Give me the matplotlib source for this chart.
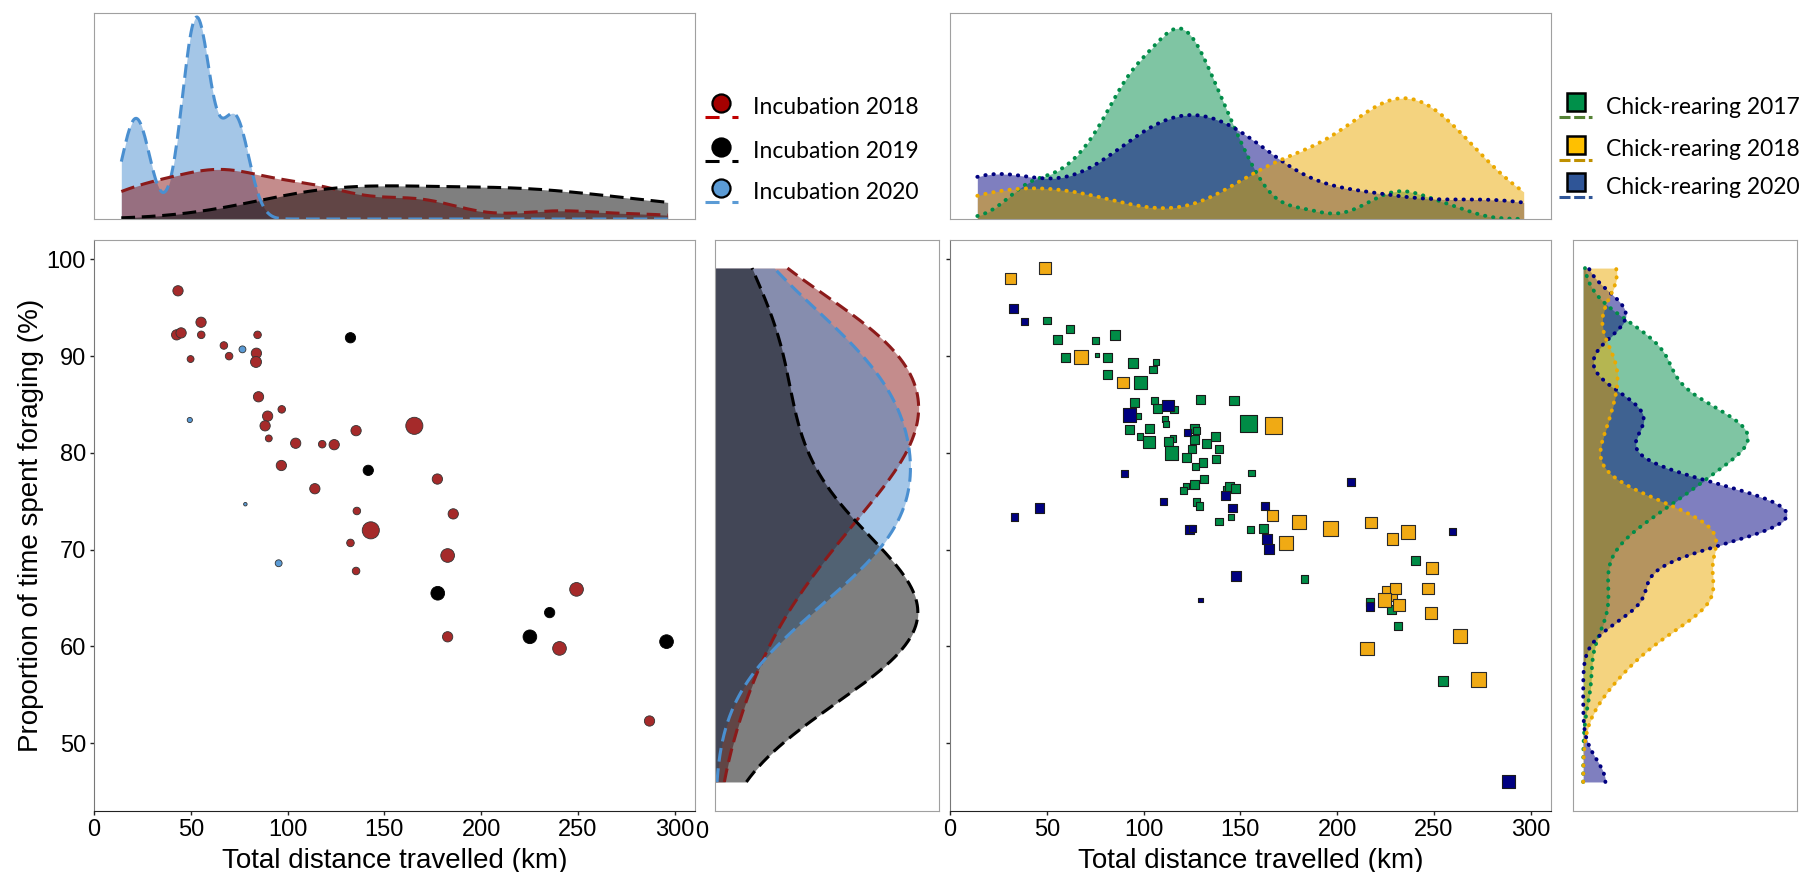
import numpy as np
import matplotlib
matplotlib.use("Agg")
import matplotlib.pyplot as plt

plt.rcParams["font.family"] = ["Liberation Sans", "DejaVu Sans"]

# ---------------- data ----------------
# Incubation: distance (km), % time foraging, size score
inc18_km = [43.4, 42.7, 45.0, 55.3, 55.4, 49.9, 67.1, 69.8, 84.5, 83.9, 83.7, 85.0,
            97.0, 89.7, 88.4, 90.3, 104.2, 117.9, 124.1, 96.8, 114.1, 135.4, 165.5,
            135.8, 143.0, 132.5, 135.4, 177.4, 185.6, 182.7, 182.7, 249.3, 240.5, 287.0]
inc18_pct = [96.75, 92.2, 92.4, 93.5, 92.2, 89.7, 91.1, 90.0, 92.2, 90.3, 89.4, 85.8,
             84.5, 83.8, 82.8, 81.5, 81.0, 80.9, 80.85, 78.7, 76.3, 82.3, 82.8,
             74.0, 72.0, 70.7, 67.8, 77.3, 73.7, 69.4, 61.0, 65.9, 59.8, 52.3]
inc18_size = [3, 3, 3, 3, 2.2, 2, 2.2, 2.2, 2.2, 3, 3.2, 3,
              2.2, 3, 3, 2, 3, 2.2, 3, 3, 3, 3, 5,
              2.2, 5, 2.2, 2.2, 3, 3, 4, 3, 4, 4, 3]

inc19_km = [132.5, 141.7, 177.6, 235.4, 225.2, 295.8]
inc19_pct = [91.9, 78.2, 65.5, 63.5, 61.0, 60.5]
inc19_size = [3, 3, 4, 3, 4, 4]

inc20_km = [76.7, 49.5, 78.2, 95.4]
inc20_pct = [90.7, 83.4, 74.7, 68.6]
inc20_size = [2, 1.5, 1, 2]

# Chick-rearing
chk17_km = [50.0, 62.0, 55.4, 75.2, 85.3, 59.5, 75.9, 81.3, 94.6, 106.5, 104.8, 81.3,
            98.4, 95.5, 105.6, 107.4, 115.8, 111.0, 111.4, 96.9, 92.8, 103.3, 98.0,
            102.8, 115.2, 113.1, 126.1, 127.4, 126.5, 132.7, 137.0, 139.0, 125.0,
            114.3, 122.4, 137.5, 130.7, 126.8, 129.5, 146.6, 154.4, 131.1, 126.3,
            122.0, 120.6, 155.8, 142.5, 144.6, 147.3, 127.4, 129.0, 145.0, 139.0,
            155.3, 161.9, 183.2, 240.5, 228.0, 231.5, 217.0, 254.6]
chk17_pct = [93.7, 92.8, 91.7, 91.6, 92.2, 89.9, 90.1, 89.9, 89.3, 89.4, 88.6, 88.1,
             87.3, 85.2, 85.4, 84.6, 84.5, 83.5, 83.0, 83.8, 82.4, 82.5, 81.7,
             81.1, 81.5, 81.2, 82.5, 82.3, 81.4, 81.0, 81.7, 80.4, 80.4,
             80.0, 79.5, 79.4, 79.0, 78.6, 85.5, 85.4, 83.0, 77.3, 76.7,
             76.6, 76.1, 77.9, 76.3, 76.5, 76.3, 74.9, 74.5, 73.4, 72.9,
             72.1, 72.2, 67.0, 68.9, 63.8, 62.1, 64.6, 56.4]
chk17_size = [2.2, 2.2, 2.6, 2.2, 2.8, 2.6, 1.3, 2.6, 2.8, 1.8, 2.2, 2.6,
              3.9, 2.6, 2.2, 2.6, 2.2, 1.8, 1.8, 1.8, 2.6, 2.6, 1.8,
              3.5, 1.8, 2.6, 2.6, 2.2, 2.6, 2.6, 2.6, 2.2, 2.2,
              3.9, 2.6, 2.2, 2.6, 1.8, 2.8, 2.8, 5, 2.2, 2.6,
              1.8, 2.2, 1.8, 1.8, 2.6, 2.6, 2.2, 2.2, 1.8, 2.2,
              2.2, 2.6, 2.2, 2.6, 2.6, 2.4, 2.4, 3.0]

chk18_km = [31.2, 49.0, 67.7, 89.3, 167.0, 166.5, 180.2, 196.5, 173.4, 217.5, 228.5,
            236.5, 227.0, 230.0, 224.5, 232.0, 249.0, 247.0, 248.5, 263.6, 215.3, 273.0]
chk18_pct = [98.0, 99.1, 89.9, 87.3, 82.8, 73.5, 72.9, 72.2, 70.7, 72.8, 71.1,
             71.8, 65.5, 66.0, 64.8, 64.3, 68.1, 66.0, 63.5, 61.1, 59.8, 56.6]
chk18_size = [3.3, 3.5, 3.9, 3.3, 5, 3.3, 4.1, 4.4, 4.1, 3.3, 3.3,
              4.2, 4.3, 3.3, 4.0, 3.3, 3.3, 3.3, 3.5, 4.2, 4.0, 4.2]

chk20_km = [33.0, 38.5, 92.6, 112.7, 122.5, 90.2, 110.4, 33.4, 46.4, 142.5, 145.9,
            123.6, 125.2, 162.7, 163.8, 164.7, 147.6, 129.5, 207.2, 217.0, 259.6, 288.5]
chk20_pct = [94.9, 93.6, 83.9, 84.9, 82.1, 77.9, 75.0, 73.4, 74.3, 75.6, 74.3,
             72.1, 72.2, 74.5, 71.1, 70.1, 67.3, 64.8, 77.0, 64.1, 71.9, 46.0]
chk20_size = [2.6, 2.2, 3.9, 3.3, 2.0, 2.0, 1.9, 2.2, 2.7, 2.7, 2.4,
              2.6, 2.0, 2.4, 2.7, 3.0, 3.0, 1.3, 2.2, 2.6, 2.0, 3.8]

inc_labels = ["Incubation 2018", "Incubation 2019", "Incubation 2020"]
chk_labels = ["Chick-rearing 2017", "Chick-rearing 2018", "Chick-rearing 2020"]

x_ticks = [0, 50, 100, 150, 200, 250, 300]
y_ticks = [50, 60, 70, 80, 90, 100]

# ---------------- styles ----------------
inc_groups = [
    (inc18_km, inc18_pct, inc18_size, "#A52A2A", "#333333", "#8B1A1A"),
    (inc19_km, inc19_pct, inc19_size, "#000000", "#000000", "#000000"),
    (inc20_km, inc20_pct, inc20_size, "#5B9BD5", "#333333", "#4A8FD0"),
]
chk_groups = [
    (chk17_km, chk17_pct, chk17_size, "#008C46", "#1a1a1a", "#018D49"),
    (chk18_km, chk18_pct, chk18_size, "#F0AA14", "#2a2a2a", "#EBA901"),
    (chk20_km, chk20_pct, chk20_size, "#000080", "#1a1a1a", "#000080"),
]
DASH = (0, (4.5, 2.2))
DOT = (0, (0.1, 2.0))


def size_to_area(score):
    # size score -> marker diameter (px) -> area in pt^2
    d = 3.5 + 3.4 * (np.asarray(score) - 1)
    return (d * 0.72) ** 2


def nrd0(v):
    v = np.asarray(v, float)
    sd = v.std(ddof=1)
    q75, q25 = np.percentile(v, [75, 25])
    lo = min(sd, (q75 - q25) / 1.34)
    if lo <= 0:
        lo = sd
    return 0.9 * lo * len(v) ** -0.2


def kde(v, grid, adjust=1.0):
    v = np.asarray(v, float)
    bw = nrd0(v) * adjust
    z = (grid[:, None] - v[None, :]) / bw
    return np.exp(-0.5 * z ** 2).sum(1) / (len(v) * bw * np.sqrt(2 * np.pi))


# ---------------- layout ----------------
W, H = 1803, 872
fig = plt.figure(figsize=(W / 100, H / 100), dpi=100)


def box(x0, y0, x1, y1):
    return [x0 / W, 1 - y1 / H, (x1 - x0) / W, (y1 - y0) / H]


ax_top_l = fig.add_axes(box(94, 13, 695, 219))
ax_l = fig.add_axes(box(94, 240, 695, 811))
ax_mid = fig.add_axes(box(715, 240, 939, 811))
ax_top_r = fig.add_axes(box(950, 13, 1551, 219))
ax_r = fig.add_axes(box(950, 240, 1551, 811))
ax_far = fig.add_axes(box(1573, 240, 1797, 811))

all_pct = inc18_pct + inc19_pct + inc20_pct + chk17_pct + chk18_pct + chk20_pct
y_grid = np.linspace(min(all_pct), max(all_pct), 512)
YLIM = (43, 102)
XLIM = (0, 310.5)

# scatter panels
for ax, groups, marker in [(ax_l, inc_groups, "o"), (ax_r, chk_groups, "s")]:
    for km, pct, sz, fc, ec, _ in groups:
        ax.scatter(km, pct, s=size_to_area(sz), c=fc, edgecolors=ec,
                   linewidths=0.8 if marker == "s" else 0.6, marker=marker, zorder=3)
    ax.set_xlim(*XLIM)
    ax.set_ylim(*YLIM)
    ax.set_xticks(x_ticks)
    ax.set_yticks(y_ticks)
    ax.tick_params(length=2.7, width=1, color="#222222", labelsize=17, pad=3)
    for side in ["top", "right"]:
        ax.spines[side].set_color("#a0a0a0")
    ax.spines["left"].set_color("#777777")
    ax.spines["bottom"].set_color("#222222")
ax_r.tick_params(axis="y", labelleft=False)

# top marginals (x densities); order = stacking order of the layers
for ax, groups, order, ls, head in [(ax_top_l, inc_groups, [2, 0, 1], DASH, 1.02),
                                    (ax_top_r, chk_groups, [0, 2, 1], DOT, 1.08)]:
    xs = np.concatenate([g[0] for g in groups])
    lo, hi = xs.min(), xs.max()
    grid = np.linspace(lo, hi, 512)
    top = 0
    for i in order:
        km, col = groups[i][0], groups[i][5]
        d = kde(km, grid)
        top = max(top, d.max())
        ax.fill_between(grid, 0, d, color=col, alpha=0.5, lw=0)
        ax.plot(grid, d, color=col, ls=ls, lw=2.2 if ls is DASH else 2.8,
                solid_capstyle="round", dash_capstyle="round" if ls is DOT else "butt")
    r = hi - lo
    ax.set_xlim(lo - 0.05 * r, hi + 0.05 * r)
    ax.set_ylim(0, top * head)

# side marginals (y densities)
for ax, groups, order, ls, lims, adj in [(ax_mid, inc_groups, [0, 2, 1], DASH, (0.0, 1.1), 1.35),
                                         (ax_far, chk_groups, [0, 2, 1], DOT, (-0.05, 1.05), 1.0)]:
    top = 0
    for i in order:
        pct, col = groups[i][1], groups[i][5]
        d = kde(pct, y_grid, adj)
        top = max(top, d.max())
        ax.fill_betweenx(y_grid, 0, d, color=col, alpha=0.5, lw=0)
        ax.plot(d, y_grid, color=col, ls=ls, lw=2.2 if ls is DASH else 2.8,
                dash_capstyle="round" if ls is DOT else "butt")
    ax.set_xlim(lims[0] * top, lims[1] * top)
    ax.set_ylim(*YLIM)

for ax in [ax_top_l, ax_top_r, ax_mid, ax_far]:
    ax.set_xticks([])
    ax.set_yticks([])
    for sp in ax.spines.values():
        sp.set_color("#a0a0a0")

# axis titles
fig.text(394.5 / W, 1 - 868 / H, "Total distance travelled (km)", fontsize=20,
         ha="center", va="baseline")
fig.text(1250.5 / W, 1 - 868 / H, "Total distance travelled (km)", fontsize=20,
         ha="center", va="baseline")
fig.text(30.6 / W, 1 - 525 / H, "Proportion of time spent foraging (%)", fontsize=20,
         rotation=90, ha="center", va="center")
fig.text(702 / W, 1 - 832 / H, "0", fontsize=17, ha="center", va="center")

# ---------------- hand-made legends ----------------
lg = fig.add_axes([0, 0, 1, 1], zorder=5)
lg.set_xlim(0, W)
lg.set_ylim(H, 0)
lg.axis("off")
lg.patch.set_alpha(0)

inc_key = [("#A50000", "#C00000"), ("#000000", "#000000"), ("#5B9BD5", "#5B9BD5")]
chk_key = [("#00904A", "#548235"), ("#FFC000", "#BF9000"), ("#2F5597", "#2F5597")]
inc_rows = [103, 147, 188]
chk_rows = [102, 145, 182]

for (fc, lc), yy, lab in zip(inc_key, inc_rows, inc_labels):
    lg.plot([705, 738], [yy + 14, yy + 14], color=lc, lw=2.2, ls=(0, (4.6, 4.2)))
    lg.plot([721], [yy], marker="o", ms=13, mfc=fc, mec="black", mew=1.6)
    lg.text(753, yy + 4, lab, fontsize=16.5, family=["Lato", "DejaVu Sans"], va="center")

for (fc, lc), yy, lab in zip(chk_key, chk_rows, chk_labels):
    lg.plot([1559, 1592], [yy + 15, yy + 15], color=lc, lw=2.2, ls=(0, (3.6, 1.2)))
    lg.plot([1576], [yy], marker="s", ms=13, mfc=fc, mec="black", mew=1.8)
    lg.text(1606, yy + 5, lab, fontsize=16.5, family=["Lato", "DejaVu Sans"], va="center")

fig.savefig("out.png", dpi=100)
